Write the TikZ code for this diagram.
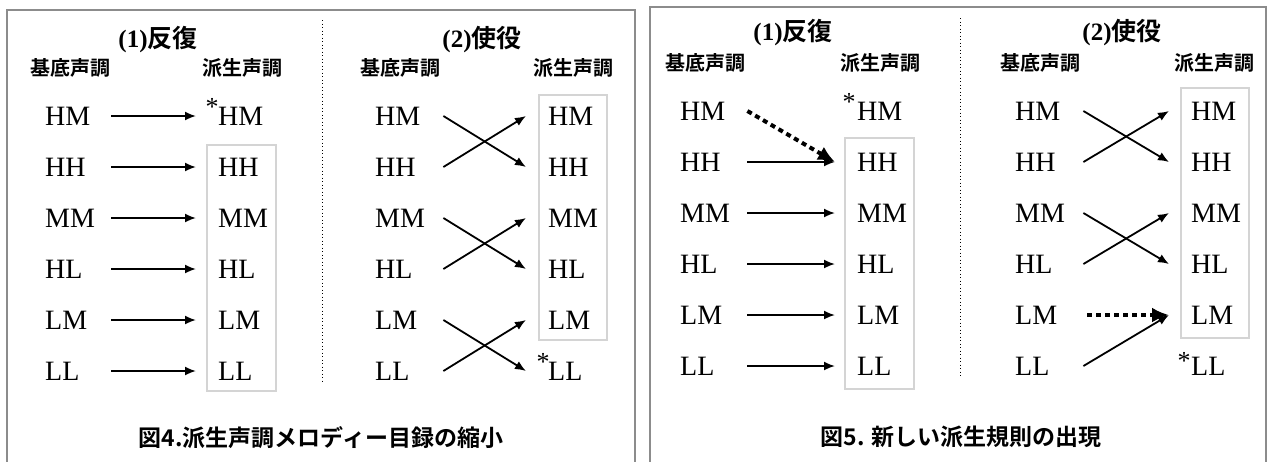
\documentclass[tikz,border=0pt]{standalone}
\usepackage{fontspec}
\setmainfont{Liberation Serif}
\newfontfamily\jp{Noto Sans CJK JP}[BoldFont={Noto Sans CJK JP Bold}]
\usetikzlibrary{arrows.meta}
\definecolor{panelgray}{RGB}{140,140,140}
\definecolor{boxgray}{RGB}{212,212,212}
\begin{document}
\begin{tikzpicture}[x=1pt,y=-1pt,
  tone/.style={font=\fontsize{28}{28}\selectfont, inner ysep=0pt, text height=18.5pt, text depth=0pt},
  lcol/.style={tone, anchor=west, inner xsep=0pt, text width=#1, align=left},
  rcol/.style={tone, anchor=west, inner xsep=22pt},
  astr/.style={font=\fontsize{26}{26}\selectfont, inner sep=0pt},
  ttl/.style={inner sep=0pt, font=\fontsize{25}{25}\selectfont\bfseries},
  sublabel/.style={inner sep=0pt, font=\jp\bfseries\fontsize{20}{20}\selectfont},
  captext/.style={inner sep=0pt, font=\jp\bfseries\fontsize{23}{23}\selectfont},
  conn/.style={-{Latex[length=11pt,width=9pt]}, line width=1.8pt},
  dconn/.style={-{Latex[length=17pt,width=15pt]}, line width=4pt, dash pattern=on 5pt off 4pt},
  sepline/.style={line width=1pt, dash pattern=on 1pt off 2.5pt},
  graybox/.style={draw=boxgray, line width=2pt},
  panelbox/.style={draw=panelgray, line width=2.5pt}]
\useasboundingbox (0,0) rectangle (1269,461);
\fill[white] (0,0) rectangle (1269,461);
% panels
\draw[panelbox] (7,470) -- (7,10) -- (635,10) -- (635,470);
\draw[panelbox] (650,470) -- (650,7) -- (1266,7) -- (1266,470);
% separators
\draw[sepline] (322,20) -- (322,382);
\draw[sepline] (960,18) -- (960,378);
% gray boxes
\draw[graybox] (207,145) rectangle (276,391);
\draw[graybox] (539,95) rectangle (607,340);
\draw[graybox] (845,138) rectangle (914,389);
\draw[graybox] (1181,88) rectangle (1249,338);
% titles
\node[ttl] (tA) at (158,40) {(1){\jp 反復}};
\node[ttl] (tB) at (482,40) {(2){\jp 使役}};
\node[ttl] (tC) at (793,33) {(1){\jp 反復}};
\node[ttl] (tD) at (1122,33) {(2){\jp 使役}};
\node[sublabel] (bA) at (70,68) {基底声調};
\node[sublabel] (hA) at (242,68) {派生声調};
\node[sublabel] (bB) at (400,68) {基底声調};
\node[sublabel] (hB) at (573,68) {派生声調};
\node[sublabel] (bC) at (705,63) {基底声調};
\node[sublabel] (hC) at (880,63) {派生声調};
\node[sublabel] (bD) at (1040,63) {基底声調};
\node[sublabel] (hD) at (1214,63) {派生声調};
% tone columns
\foreach \t [count=\i from 0] in {HM,HH,MM,HL,LM,LL} {
  \node[lcol=66pt] (A\t) at (45,{116+51*\i}) {\t};
  \node[rcol] (a\t) at (196,{116+51*\i}) {\t};
  \node[lcol=68pt] (B\t) at (375,{116+51*\i}) {\t};
  \node[rcol] (b\t) at (526,{116+51*\i}) {\t};
  \node[lcol=67pt] (C\t) at (680,{111+51*\i}) {\t};
  \node[rcol] (c\t) at (835,{111+51*\i}) {\t};
  \node[lcol=68pt] (D\t) at (1015,{111+51*\i}) {\t};
  \node[rcol] (d\t) at (1169,{111+51*\i}) {\t};
}
% stars
\node[astr] (sA) at (212,107) {*};
\node[astr] (sB) at (543,362) {*};
\node[astr] (sC) at (849,102) {*};
\node[astr] (sD) at (1184,361) {*};
% arrows A
\foreach \t in {HM,HH,MM,HL,LM,LL} \draw[conn] (A\t.east) -- (a\t.west);
% arrows B
\draw[conn] (BHM.east) -- (bHH.west);
\draw[conn] (BHH.east) -- (bHM.west);
\draw[conn] (BMM.east) -- (bHL.west);
\draw[conn] (BHL.east) -- (bMM.west);
\draw[conn] (BLM.east) -- (bLL.west);
\draw[conn] (BLL.east) -- (bLM.west);
% arrows C
\draw[dconn] (CHM.east) -- (cHH.west);
\foreach \t in {HH,MM,HL,LM,LL} \draw[conn] (C\t.east) -- (c\t.west);
% arrows D
\draw[conn] (DHM.east) -- (dHH.west);
\draw[conn] (DHH.east) -- (dHM.west);
\draw[conn] (DMM.east) -- (dHL.west);
\draw[conn] (DHL.east) -- (dMM.west);
\draw[dconn] ([xshift=4pt]DLM.east) -- (dLM.west);
\draw[conn] (DLL.east) -- (dLM.west);
% captions
\node[captext] (cap4) at (321,438) {図4.派生声調メロディー目録の縮小};
\node[captext] (cap5) at (961,437) {図5. 新しい派生規則の出現};
\end{tikzpicture}
\end{document}
